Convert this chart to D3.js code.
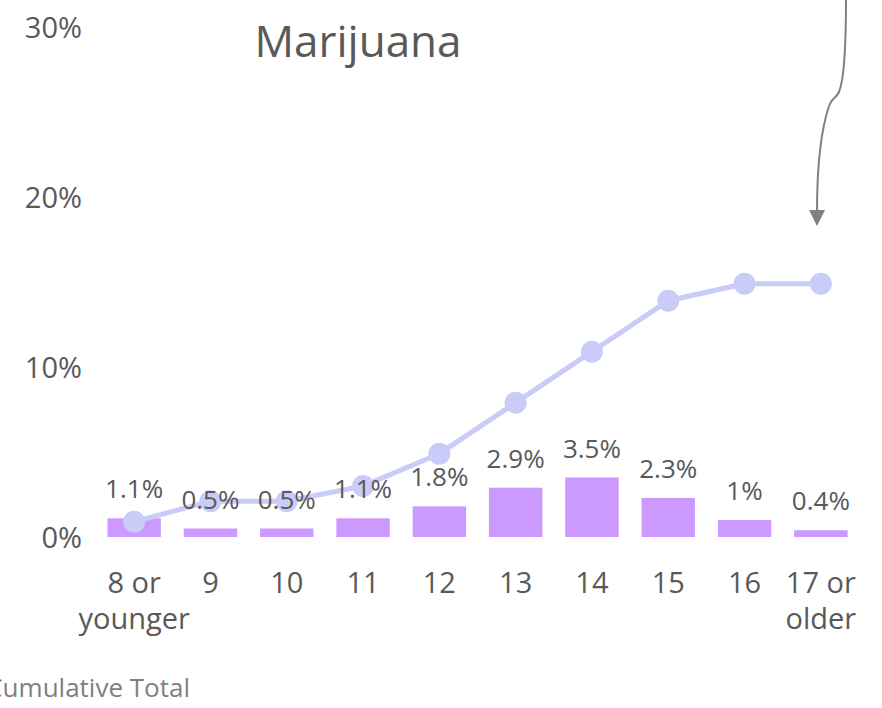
<!DOCTYPE html>
<html>
<head>
<meta charset="utf-8">
<script src="https://cdnjs.cloudflare.com/ajax/libs/d3/7.8.5/d3.min.js"></script>
<style>
  body { margin: 0; background: #fff; }
  text { font-family: "Open Sans", sans-serif; fill: #595959; }
</style>
</head>
<body>
<script>
//chart data
var ages = ["8 or younger", "9", "10", "11", "12", "13", "14", "15", "16", "17 or older"];
var ageLines = [["8 or", "younger"], ["9"], ["10"], ["11"], ["12"], ["13"], ["14"], ["15"], ["16"], ["17 or", "older"]];
var firstUse = [1.1, 0.5, 0.5, 1.1, 1.8, 2.9, 3.5, 2.3, 1.0, 0.4];
var cumulative = [0.9, 2.1, 2.1, 3.0, 4.9, 7.9, 10.9, 13.9, 14.9, 14.9];
var yTicks = [0, 10, 20, 30];

var w = 882, h = 708;
var svg = d3.select("body").append("svg")
  .attr("width", w)
  .attr("height", h);

//scales
var x = d3.scaleBand()
  .domain(ages)
  .range([96, 859])
  .paddingInner(0.3)
  .paddingOuter(0.15);
var y = d3.scaleLinear()
  .domain([0, 30])
  .range([537, 27]);

//y axis labels only
var yAxis = d3.axisLeft(y)
  .tickValues(yTicks)
  .tickSize(0)
  .tickPadding(0)
  .tickFormat(function(d) { return d + "%"; });
var yg = svg.append("g")
  .attr("transform", "translate(82,0)")
  .call(yAxis);
yg.select(".domain").remove();
yg.attr("font-size", null).attr("font-family", null);
yg.selectAll("text")
  .attr("dy", "0.35em")
  .style("font-size", "29px")
  .style("fill", "#595959");

//bars
svg.selectAll(".bar")
  .data(firstUse)
  .enter()
  .append("rect")
  .attr("class", "bar")
  .attr("x", function(d, i) { return x(ages[i]); })
  .attr("width", x.bandwidth())
  .attr("y", function(d) { return y(d); })
  .attr("height", function(d) { return y(0) - y(d); })
  .style("fill", "#cc99ff");

//cumulative line
var line = d3.line()
  .x(function(d, i) { return x(ages[i]) + x.bandwidth() / 2; })
  .y(function(d) { return y(d); });
svg.append("path")
  .datum(cumulative)
  .attr("d", line)
  .style("fill", "none")
  .style("stroke", "#c9cbf8")
  .style("stroke-width", 5);
svg.selectAll(".dot")
  .data(cumulative)
  .enter()
  .append("circle")
  .attr("class", "dot")
  .attr("cx", function(d, i) { return x(ages[i]) + x.bandwidth() / 2; })
  .attr("cy", function(d) { return y(d); })
  .attr("r", 11)
  .style("fill", "#c9cbf8");

//bar value labels
svg.selectAll(".val")
  .data(firstUse)
  .enter()
  .append("text")
  .attr("class", "val")
  .attr("text-anchor", "middle")
  .attr("x", function(d, i) { return x(ages[i]) + x.bandwidth() / 2; })
  .attr("y", function(d) { return y(d) - 20; })
  .style("font-size", "26px")
  .text(function(d) { return d + "%"; });

//category labels, one text per line
var catLines = [];
ageLines.forEach(function(lines, i) {
  lines.forEach(function(t, j) { catLines.push({t: t, i: i, j: j}); });
});
svg.selectAll(".cat")
  .data(catLines)
  .enter()
  .append("text")
  .attr("class", "cat")
  .attr("text-anchor", "middle")
  .attr("x", function(d) { return x(ages[d.i]) + x.bandwidth() / 2; })
  .attr("y", function(d) { return 593 + d.j * 36; })
  .style("font-size", "29px")
  .text(function(d) { return d.t; });

//title
svg.append("text")
  .attr("x", 358)
  .attr("y", 57)
  .attr("text-anchor", "middle")
  .style("font-size", "44px")
  .text("Marijuana");

//legend text cut at the left edge
svg.append("text")
  .attr("x", 190)
  .attr("y", 697)
  .attr("text-anchor", "end")
  .style("font-size", "26px")
  .style("fill", "#7f7f7f")
  .text("Cumulative Total");

//callout arrow
svg.append("path")
  .attr("d", "M846,0 C846,40 844,80 839,92 C836,99 831,98 829,106 C821,130 817,170 817,212")
  .style("fill", "none")
  .style("stroke", "#808080")
  .style("stroke-width", 2);
svg.append("path")
  .attr("d", "M809,210 L825,210 L817,226 Z")
  .style("fill", "#808080");
</script>
</body>
</html>
